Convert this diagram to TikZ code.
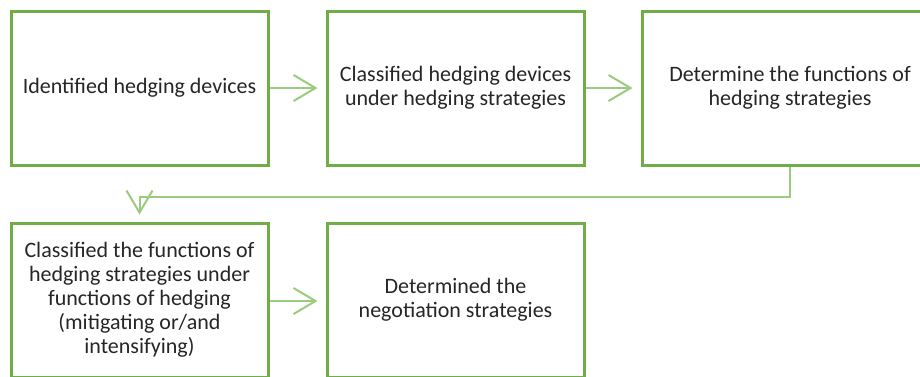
\documentclass[tikz,border=0pt]{standalone}
\usepackage{fontspec}
\setmainfont{Carlito}
\usetikzlibrary{arrows.meta}
\definecolor{boxgreen}{HTML}{70AD47}
\definecolor{linkgreen}{HTML}{9BCB7F}
\definecolor{txtgray}{HTML}{262626}
\tikzset{
  stepbox/.style={draw=boxgreen, line width=3pt, fill=white,
    minimum width=257pt, minimum height=154pt, inner sep=0pt,
    align=center, text=txtgray, font=\fontsize{22}{24}\selectfont},
  conn/.style={draw=linkgreen, line width=2pt,
    -{Straight Barb[length=22pt, width=26pt, line width=2pt]}}
}
\begin{document}
\begin{tikzpicture}[x=1pt, y=-1pt]
  \useasboundingbox (0,0) rectangle (920,376);
  \clip (0,0) rectangle (920,376);
  % first row
  \node[stepbox] (b1) at (139.5,88) {Identified hedging devices};
  \node[stepbox] (b2) at (455.5,88) {Classified hedging devices\\under hedging strategies};
  \node[stepbox, minimum width=296pt] (b3) at (790,88) {Determine the functions of\\hedging strategies};
  % second row
  \node[stepbox] (b4) at (139.5,300) {Classified the functions of\\hedging strategies under\\functions of hedging\\(mitigating or/and\\intensifying)};
  \node[stepbox] (b5) at (455.5,300) {Determined the\\negotiation strategies};
  % connectors
  \coordinate (t2) at ([xshift=-8pt]b2.west);
  \coordinate (t3) at ([xshift=-8pt]b3.west);
  \coordinate (t5) at ([xshift=-8pt]b5.west |- 0,301);
  \coordinate (turn) at ([yshift=-30pt]b3.south);
  \coordinate (t4) at ([yshift=7pt]b4.north);
  \draw[conn] (b1.east) -- (t2);
  \draw[conn] (b2.east) -- (t3);
  \draw[conn] (b4.east |- t5) -- (t5);
  \draw[conn] (b3.south) -- (turn) -| (t4);
\end{tikzpicture}
\end{document}
